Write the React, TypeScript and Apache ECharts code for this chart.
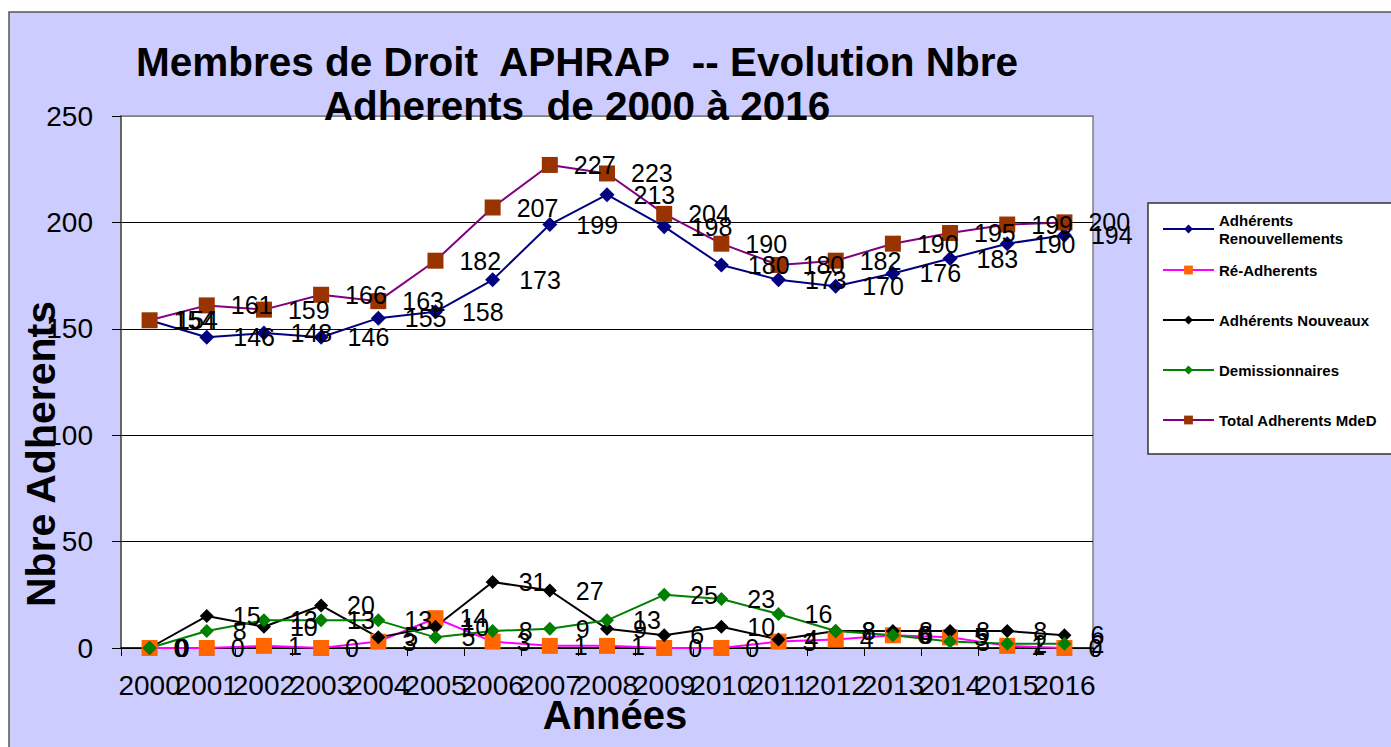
import React, { useEffect, useRef } from "react";
import * as echarts from "echarts";

const years = ["2000", "2001", "2002", "2003", "2004", "2005", "2006", "2007", "2008", "2009", "2010", "2011", "2012", "2013", "2014", "2015", "2016"];
const renouvellements = [154, 146, 148, 146, 155, 158, 173, 199, 213, 198, 180, 173, 170, 176, 183, 190, 194];
const reAdherents = [0, 0, 1, 0, 3, 14, 3, 1, 1, 0, 0, 3, 4, 6, 5, 1, 0];
const nouveaux = [0, 15, 10, 20, 5, 10, 31, 27, 9, 6, 10, 4, 8, 8, 8, 8, 6];
const demissionnaires = [0, 8, 13, 13, 13, 5, 8, 9, 13, 25, 23, 16, 8, 6, 3, 2, 2];
const total = [154, 161, 159, 166, 163, 182, 207, 227, 223, 204, 190, 180, 182, 190, 195, 199, 200];

const seriesNames = [
  "Adhérents\nRenouvellements",
  "Ré-Adherents",
  "Adhérents Nouveaux",
  "Demissionnaires",
  "Total Adherents MdeD",
];
const yTicks = [0, 50, 100, 150, 200, 250];

const FONT = 'Arial, "Liberation Sans", sans-serif';

export default function App() {
  const ref = useRef<HTMLDivElement>(null);
  useEffect(() => {
    if (!ref.current) return;
    const chart = echarts.init(ref.current, undefined, { renderer: "svg" });
    const label = (dist: number) => ({
      show: true,
      position: "right" as const,
      distance: dist,
      fontSize: 25,
      fontFamily: FONT,
      color: "#000",
    });
    const mk = (
      name: string,
      data: number[],
      lineColor: string,
      markColor: string,
      symbol: string,
      size: number,
      dist: number
    ) => ({
      name,
      type: "line",
      data,
      symbol,
      symbolSize: size,
      itemStyle: { color: markColor },
      lineStyle: { color: lineColor, width: 2 },
      label: label(dist),
      labelLayout: { hideOverlap: false },
    });
    const legendTops = [211, 261, 311, 361, 411];
    chart.setOption({
      animation: false,
      backgroundColor: "#ffffff",
      graphic: [
        {
          type: "rect",
          z: -100,
          shape: { x: 9, y: 12, width: 1400, height: 760 },
          style: { fill: "#CCCCFF", stroke: "#555555", lineWidth: 1.5 },
          silent: true,
        },
        {
          type: "rect",
          z: -50,
          shape: { x: 1148, y: 203, width: 260, height: 251 },
          style: { fill: "#ffffff", stroke: "#333333", lineWidth: 1.5 },
          silent: true,
        },
      ],
      title: {
        text: "Membres de Droit  APHRAP  -- Evolution Nbre\nAdherents  de 2000 à 2016",
        left: 577,
        top: 40,
        padding: 0,
        textAlign: "center",
        textStyle: {
          fontSize: 40.5,
          fontWeight: "bold",
          fontFamily: FONT,
          color: "#000",
          lineHeight: 44,
        },
      },
      legend: seriesNames.map((n, i) => ({
        data: [n],
        left: 1162,
        top: legendTops[i],
        padding: 0,
        itemWidth: 51,
        itemHeight: 11,
        selectedMode: false,
        textStyle: {
          fontSize: 15,
          fontWeight: "bold",
          fontFamily: FONT,
          color: "#000",
          lineHeight: 18,
        },
      })),
      grid: {
        left: 121,
        top: 116,
        right: 298,
        bottom: 99,
        show: true,
        backgroundColor: "#ffffff",
        borderColor: "#808080",
        borderWidth: 1.5,
        containLabel: false,
        outerBoundsMode: "none",
      },
      xAxis: {
        type: "category",
        data: years,
        boundaryGap: true,
        name: "Années",
        nameLocation: "middle",
        nameGap: 47,
        nameMoveOverlap: false,
        nameTextStyle: {
          fontSize: 40,
          fontWeight: "bold",
          fontFamily: FONT,
          color: "#000",
          padding: [0, 0, 0, 16],
        },
        axisLine: { lineStyle: { color: "#000", width: 1.5 } },
        axisTick: { show: true, interval: 0, alignWithLabel: false, length: 8, lineStyle: { color: "#000" } },
        axisLabel: { interval: 0, fontSize: 28, fontFamily: FONT, color: "#000", margin: 23, hideOverlap: false },
        splitLine: { show: false },
      },
      yAxis: {
        type: "value",
        min: 0,
        max: 250,
        interval: 50,
        name: "Nbre Adherents",
        nameLocation: "middle",
        nameRotate: 90,
        nameGap: 60,
        nameMoveOverlap: false,
        nameTextStyle: {
          fontSize: 41,
          fontWeight: "bold",
          fontFamily: FONT,
          color: "#000",
          padding: [0, 144, 0, 0],
        },
        axisLine: { show: true, lineStyle: { color: "#555", width: 1.5 } },
        axisTick: { show: true, length: 9, lineStyle: { color: "#000" } },
        axisLabel: {
          fontSize: 28,
          fontFamily: FONT,
          color: "#000",
          margin: 28,
          formatter: (v: number) => (yTicks.includes(v) ? String(v) : ""),
        },
        splitLine: {
          show: true,
          lineStyle: { color: ["#000", "#000", "#000", "#000", "#000", "#808080"], width: 1 },
        },
      },
      series: [
        mk(seriesNames[0], renouvellements, "#000080", "#000080", "diamond", 15, 19),
        mk(seriesNames[1], reAdherents, "#FF00FF", "#FF6600", "rect", 16, 16),
        mk(seriesNames[2], nouveaux, "#000000", "#000000", "diamond", 14, 19),
        mk(seriesNames[3], demissionnaires, "#008000", "#008000", "diamond", 14, 19),
        mk(seriesNames[4], total, "#800080", "#993300", "rect", 16, 16),
      ],
    });
    return () => chart.dispose();
  }, []);
  return (
    <div
      ref={ref}
      style={{ position: "absolute", left: 0, top: 0, width: 1391, height: 747 }}
    />
  );
}
